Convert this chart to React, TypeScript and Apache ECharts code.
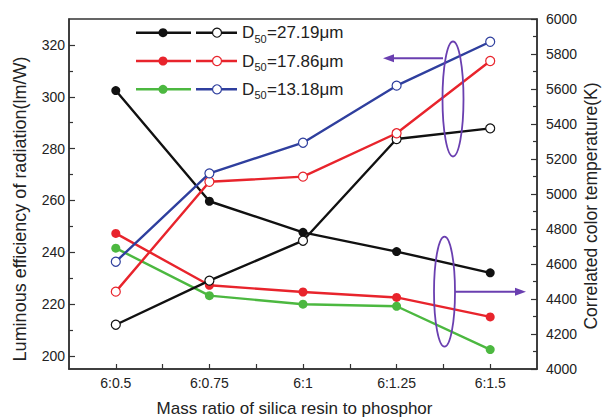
import React, { useEffect, useRef } from "react";
import * as echarts from "echarts";

const ratios = [0.5, 0.75, 1, 1.25, 1.5];
const lerBlack = [302.4, 259.7, 247.7, 240.3, 232.1];
const lerRed = [247.3, 227.3, 224.7, 222.6, 215.1];
const lerGreen = [241.6, 223.3, 220.0, 219.2, 202.5];
const cctBlack = [4253, 4505, 4733, 5314, 5375];
const cctRed = [4442, 5070, 5099, 5347, 5760];
const cctBlue = [4613, 5118, 5293, 5619, 5870];

const leftMajor = [200, 220, 240, 260, 280, 300, 320];
const leftMinor = [210, 230, 250, 270, 290, 310];
const rightMajor = [4000, 4200, 4400, 4600, 4800, 5000, 5200, 5400, 5600, 5800, 6000];
const rightMinor = [4100, 4300, 4500, 4700, 4900, 5100, 5300, 5500, 5700, 5900];
const xTicks = [0.5, 0.625, 0.75, 0.875, 1, 1.125, 1.25, 1.375, 1.5];
const xLabels = [0.5, 0.75, 1, 1.25, 1.5];

const legendRows = [
  { a: "#111111", b: "#111111", label: "=27.19μm" },
  { a: "#e8242c", b: "#e8242c", label: "=17.86μm" },
  { a: "#4cb840", b: "#2f3f9e", label: "=13.18μm" },
];

const FONT = "Liberation Sans, Arial, sans-serif";
const TXT = "#222";
const AX = "#333";
const PURPLE = "#6a3fb0";

function pairs(vals: number[]) {
  return ratios.map((r, i) => [r, vals[i]]);
}

export default function App() {
  const ref = useRef<HTMLDivElement>(null);
  useEffect(() => {
    if (!ref.current) return;
    const chart = echarts.init(ref.current, null, { renderer: "svg" });

    const filled = (name: string, color: string, vals: number[]) => ({
      name,
      type: "line",
      yAxisIndex: 0,
      data: pairs(vals),
      symbol: "circle",
      symbolSize: 9,
      lineStyle: { color, width: 2.4 },
      itemStyle: { color, borderColor: color, borderWidth: 0 },
      z: 3,
    });
    const hollow = (name: string, color: string, vals: number[]) => ({
      name,
      type: "line",
      yAxisIndex: 1,
      data: pairs(vals),
      symbol: "circle",
      symbolSize: 9,
      showAllSymbol: true,
      lineStyle: { color, width: 2.4 },
      itemStyle: { color: "#ffffff", borderColor: color, borderWidth: 1.2 },
      z: 4,
    });

    const legendGraphics: any[] = [];
    const rowY = [32.7, 61, 89.3];
    legendRows.forEach((row, i) => {
      const y = rowY[i];
      legendGraphics.push(
        { type: "line", shape: { x1: 136, y1: y, x2: 191, y2: y }, style: { stroke: row.a, lineWidth: 2.4 } },
        { type: "circle", shape: { cx: 163, cy: y, r: 4.5 }, style: { fill: row.a } },
        { type: "line", shape: { x1: 196, y1: y, x2: 237, y2: y }, style: { stroke: row.b, lineWidth: 2.4 } },
        { type: "circle", shape: { cx: 217, cy: y, r: 4.5 }, style: { fill: "#fff", stroke: row.b, lineWidth: 1.2 } },
        { type: "text", x: 242, y: y, style: { text: "D", font: `17px ${FONT}`, fill: TXT, verticalAlign: "middle" } },
        { type: "text", x: 254.5, y: y + 6, style: { text: "50", font: `11px ${FONT}`, fill: TXT, verticalAlign: "middle" } },
        { type: "text", x: 267, y: y, style: { text: row.label, font: `17px ${FONT}`, fill: TXT, verticalAlign: "middle" } }
      );
    });

    const option: any = {
      animation: false,
      backgroundColor: "#ffffff",
      grid: { left: 69, right: 66, top: 19, bottom: 49, show: true, borderColor: AX, borderWidth: 1.5, backgroundColor: "transparent" },
      xAxis: {
        type: "value",
        min: 0.375,
        max: 1.625,
        axisLine: { show: true, lineStyle: { color: AX, width: 1.5 } },
        axisTick: { show: true, inside: true, length: 5, customValues: xTicks, lineStyle: { color: AX, width: 1.2 } },
        axisLabel: {
          show: true,
          customValues: xLabels,
          formatter: (v: number) => "6:" + v,
          color: TXT,
          fontSize: 14,
          fontFamily: FONT,
          margin: 7,
        },
        splitLine: { show: false },
      },
      yAxis: [
        {
          type: "value",
          position: "left",
          min: 195,
          max: 330,
          axisLine: { show: true, lineStyle: { color: AX, width: 1.5 } },
          axisTick: { show: true, inside: true, length: 6, customValues: leftMajor, lineStyle: { color: AX, width: 1.2 } },
          axisLabel: { show: true, customValues: leftMajor, formatter: (v: number) => String(v), color: TXT, fontSize: 14, fontFamily: FONT, margin: 4 },
          splitLine: { show: false },
        },
        {
          type: "value",
          position: "right",
          min: 4000,
          max: 6000,
          axisLine: { show: true, lineStyle: { color: AX, width: 1.5 } },
          axisTick: { show: true, inside: true, length: 6, customValues: rightMajor, lineStyle: { color: AX, width: 1.2 } },
          axisLabel: { show: true, customValues: rightMajor, formatter: (v: number) => String(v), color: TXT, fontSize: 14, fontFamily: FONT, margin: 9 },
          splitLine: { show: false },
        },
        {
          type: "value",
          position: "left",
          min: 195,
          max: 330,
          axisLine: { show: false },
          axisTick: { show: true, inside: true, length: 4, customValues: leftMinor, lineStyle: { color: AX, width: 1.2 } },
          axisLabel: { show: false },
          splitLine: { show: false },
        },
        {
          type: "value",
          position: "right",
          min: 4000,
          max: 6000,
          axisLine: { show: false },
          axisTick: { show: true, inside: true, length: 4, customValues: rightMinor, lineStyle: { color: AX, width: 1.2 } },
          axisLabel: { show: false },
          splitLine: { show: false },
        },
      ],
      series: [
        filled("LER 27.19", "#111111", lerBlack),
        filled("LER 17.86", "#e8242c", lerRed),
        filled("LER 13.18", "#4cb840", lerGreen),
        hollow("CCT 27.19", "#111111", cctBlack),
        hollow("CCT 17.86", "#e8242c", cctRed),
        hollow("CCT 13.18", "#2f3f9e", cctBlue),
      ],
      graphic: [
        ...legendGraphics,
        { type: "ellipse", shape: { cx: 453, cy: 99, rx: 10.5, ry: 57.5 }, style: { fill: "none", stroke: PURPLE, lineWidth: 1.8 }, z: 10 },
        { type: "line", shape: { x1: 443, y1: 58.3, x2: 392, y2: 58.3 }, style: { stroke: PURPLE, lineWidth: 2 }, z: 10 },
        { type: "polygon", shape: { points: [[383, 58.3], [394, 54.3], [394, 62.3]] }, style: { fill: PURPLE }, z: 10 },
        { type: "ellipse", shape: { cx: 444.5, cy: 291.7, rx: 10.5, ry: 55 }, style: { fill: "none", stroke: PURPLE, lineWidth: 1.8 }, z: 10 },
        { type: "line", shape: { x1: 455, y1: 291.7, x2: 516, y2: 291.7 }, style: { stroke: PURPLE, lineWidth: 2 }, z: 10 },
        { type: "polygon", shape: { points: [[526, 291.7], [515, 287.7], [515, 295.7]] }, style: { fill: PURPLE }, z: 10 },
        {
          type: "text",
          x: 20,
          y: 209,
          rotation: Math.PI / 2,
          style: { text: "Luminous efficiency of radiation(lm/W)", font: `18px ${FONT}`, fill: TXT, align: "center", verticalAlign: "middle" },
        },
        {
          type: "text",
          x: 591,
          y: 206,
          rotation: Math.PI / 2,
          style: { text: "Correlated color temperature(K)", font: `17.5px ${FONT}`, fill: TXT, align: "center", verticalAlign: "middle" },
        },
        {
          type: "text",
          x: 294.5,
          y: 408,
          style: { text: "Mass ratio of silica resin to phosphor", font: `17px ${FONT}`, fill: TXT, align: "center", verticalAlign: "middle" },
        },
      ],
    };
    chart.setOption(option);
    return () => chart.dispose();
  }, []);
  return <div ref={ref} style={{ position: "fixed", left: 0, top: 0, width: 603, height: 418 }} />;
}
